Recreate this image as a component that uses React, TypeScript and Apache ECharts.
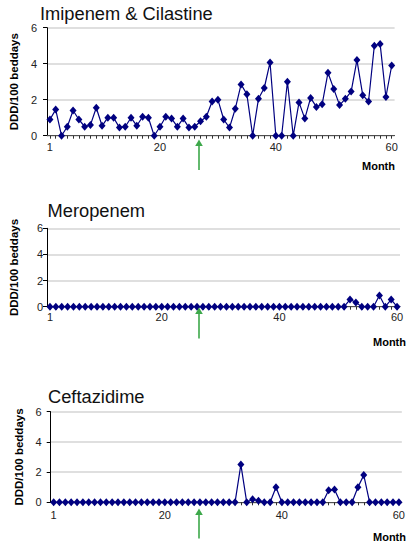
import { useEffect, useRef } from "react";
import * as echarts from "echarts";

const months = Array.from({ length: 60 }, (_, i) => i + 1);
const xLabelValues = [1, 20, 40, 60];
const yMax = 6;
const yStep = 2;

const titles = ["Imipenem & Cilastine", "Meropenem", "Ceftazidime"];
const yAxisName = "DDD/100 beddays";
const xAxisName = "Month";

const imipenem = [
  0.9, 1.45, 0, 0.5, 1.4, 0.9, 0.5, 0.6, 1.55, 0.55,
  1.0, 1.0, 0.45, 0.5, 1.0, 0.55, 1.05, 1.0, 0, 0.5,
  1.05, 0.95, 0.5, 0.95, 0.45, 0.5, 0.8, 1.05, 1.9, 2.0,
  0.9, 0.45, 1.5, 2.85, 2.3, 0, 2.05, 2.65, 4.07, 0,
  0, 3.0, 0, 1.85, 0.95, 2.1, 1.6, 1.75, 3.5, 2.6,
  1.7, 2.05, 2.45, 4.2, 2.25, 1.9, 5.0, 5.1, 2.15, 3.9,
];

const meropenem = [
  0, 0, 0, 0, 0, 0, 0, 0, 0, 0,
  0, 0, 0, 0, 0, 0, 0, 0, 0, 0,
  0, 0, 0, 0, 0, 0, 0, 0, 0, 0,
  0, 0, 0, 0, 0, 0, 0, 0, 0, 0,
  0, 0, 0, 0, 0, 0, 0, 0, 0, 0,
  0, 0.55, 0.33, 0, 0, 0, 0.85, 0, 0.55, 0,
];

const ceftazidime = [
  0, 0, 0, 0, 0, 0, 0, 0, 0, 0,
  0, 0, 0, 0, 0, 0, 0, 0, 0, 0,
  0, 0, 0, 0, 0, 0, 0, 0, 0, 0,
  0, 0, 2.5, 0, 0.2, 0.1, 0, 0, 1.0, 0,
  0, 0, 0, 0, 0, 0, 0, 0.8, 0.85, 0,
  0, 0, 1.0, 1.8, 0, 0, 0, 0, 0, 0,
];

const seriesData = [imipenem, meropenem, ceftazidime];

const FONT = "'Liberation Sans', Arial, sans-serif";
const NAVY = "#000080";
const GREEN = "#3da84a";

// layout per panel
const panels = [
  { left: 42.8, top: 27.7, width: 351.8, height: 108, xMargin: 6, yMargin: 10, nameGap: 26, titleX: 40, titleY: 13, monthX: 395, monthAlign: "right", monthY: 166, arrowTop: 139.5, arrowBottom: 170 },
  { left: 45, top: 228.3, width: 355, height: 78.4, xMargin: 5, yMargin: 4, nameGap: 27, titleX: 47.5, titleY: 210.5, monthX: 373, monthAlign: "left", monthY: 341.5, arrowTop: 307.5, arrowBottom: 338.5 },
  { left: 50.7, top: 411.7, width: 355, height: 90.6, xMargin: 7, yMargin: 9, nameGap: 26, titleX: 48, titleY: 396.7, monthX: 373, monthAlign: "left", monthY: 537, arrowTop: 508.5, arrowBottom: 538.5 },
];
const arrowX = 199;

export default function App() {
  const ref = useRef<HTMLDivElement>(null);

  useEffect(() => {
    document.body.style.margin = "0";
    if (!ref.current) return;
    const chart = echarts.init(ref.current, undefined, { renderer: "svg" });

    const grids = panels.map((p) => ({ left: p.left, top: p.top, width: p.width, height: p.height, containLabel: false }));

    const xAxes = panels.map((p, i) => ({
      type: "value",
      gridIndex: i,
      min: 0.5,
      max: 60.5,
      axisLine: { show: true, onZero: false, lineStyle: { color: "#505050", width: 1 } },
      axisTick: { show: true, inside: false, length: 3, customValues: months, lineStyle: { color: "#303030" } },
      axisLabel: { customValues: xLabelValues, margin: p.xMargin, fontSize: 11, color: "#222", fontFamily: FONT },
      splitLine: { show: false },
    }));

    const yAxes = panels.map((p, i) => ({
      type: "value",
      gridIndex: i,
      min: 0,
      max: yMax,
      interval: yStep,
      name: yAxisName,
      nameLocation: "middle",
      nameRotate: 90,
      nameGap: p.nameGap,
      nameTextStyle: { fontSize: 11.5, fontWeight: "bold", color: "#000", fontFamily: FONT },
      axisLine: { show: true, lineStyle: { color: "#000", width: 1 } },
      axisTick: { show: true, inside: false, length: 4, lineStyle: { color: "#000" } },
      axisLabel: { margin: p.yMargin, fontSize: 11, color: "#222", fontFamily: FONT },
      splitLine: { show: true, lineStyle: { color: "#d4d4d4", width: 1.5 } },
    }));

    const series = seriesData.map((vals, i) => ({
      type: "line",
      xAxisIndex: i,
      yAxisIndex: i,
      data: vals.map((v, j) => [months[j], v]),
      symbol: "diamond",
      symbolSize: [7, 8],
      showSymbol: true,
      lineStyle: { color: NAVY, width: 1.2 },
      itemStyle: { color: NAVY },
      z: 5,
    }));

    const graphics: any[] = [];
    panels.forEach((p, i) => {
      graphics.push({
        type: "text",
        x: p.titleX,
        y: p.titleY,
        style: { text: titles[i], fontSize: 18.3, fontFamily: FONT, fill: "#111", verticalAlign: "middle", align: "left" },
      });
      graphics.push({
        type: "text",
        x: p.monthX,
        y: p.monthY,
        style: { text: xAxisName, fontSize: 11, fontWeight: "bold", fontFamily: FONT, fill: "#000", verticalAlign: "middle", align: p.monthAlign },
      });
      graphics.push({
        type: "line",
        shape: { x1: arrowX, y1: p.arrowTop + 5, x2: arrowX, y2: p.arrowBottom },
        style: { stroke: GREEN, lineWidth: 1.6 },
        z: 10,
      });
      graphics.push({
        type: "polygon",
        shape: { points: [[arrowX, p.arrowTop], [arrowX - 3.8, p.arrowTop + 6.5], [arrowX + 3.8, p.arrowTop + 6.5]] },
        style: { fill: GREEN },
        z: 10,
      });
    });

    chart.setOption({
      animation: false,
      backgroundColor: "#fff",
      grid: grids,
      xAxis: xAxes,
      yAxis: yAxes,
      series,
      graphic: graphics,
    } as any);

    return () => chart.dispose();
  }, []);

  return <div ref={ref} style={{ width: 408, height: 545 }} />;
}
